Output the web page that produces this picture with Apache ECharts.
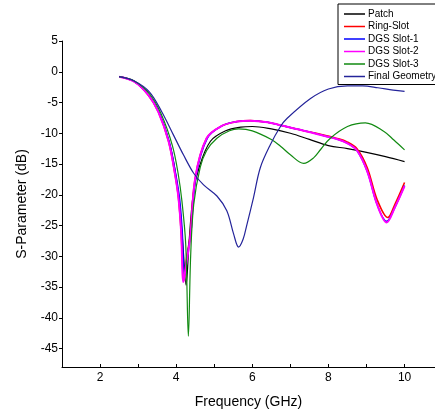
<!DOCTYPE html>
<html>
<head>
<meta charset="utf-8">
<title>S-Parameter</title>
<script src="https://cdn.jsdelivr.net/npm/echarts@6/dist/echarts.min.js"></script>
<style>
  html, body { margin: 0; padding: 0; background: #fff; }
  #chart { width: 435px; height: 414px; }
</style>
</head>
<body>
<div id="chart"></div>
<script>
// values (GHz / dB)
const seriesNames = ['Patch', 'Ring-Slot', 'DGS Slot-1', 'DGS Slot-2', 'DGS Slot-3', 'Final Geometry'];

const patchF = [2.5, 2.9, 3.3, 3.6, 3.85, 4.0, 4.1, 4.18, 4.26, 4.34, 4.45, 4.6, 4.9, 5.3, 5.7, 6.0, 6.5, 7.0, 7.5, 8.0, 8.5, 9.0, 9.5, 10.0];
const patchS = [-0.8, -1.6, -4.0, -7.4, -12.3, -17.2, -22.2, -28.5, -34.7, -27.5, -19.8, -15.6, -11.3, -9.6, -9.0, -8.9, -9.3, -10.0, -11.0, -12.0, -12.5, -13.1, -13.8, -14.6];

const ringF = [2.5, 2.9, 3.27, 3.53, 3.8, 3.97, 4.06, 4.13, 4.2, 4.28, 4.37, 4.5, 4.8, 5.2, 5.6, 5.95, 6.4, 6.74, 7.3, 7.88, 8.2, 8.49, 8.75, 9.02, 9.28, 9.56, 9.75, 10.0];
const ringS = [-0.8, -1.6, -3.8, -6.5, -11.3, -16.7, -20.5, -26.0, -34.0, -30.0, -26.5, -17.3, -10.8, -8.8, -8.1, -7.95, -8.2, -8.7, -9.5, -10.3, -10.8, -11.4, -12.5, -15.6, -20.8, -23.7, -21.5, -18.0];

const slot1F = [2.5, 2.9, 3.28, 3.55, 3.82, 3.99, 4.09, 4.16, 4.22, 4.3, 4.39, 4.52, 4.82, 5.2, 5.6, 5.95, 6.4, 6.74, 7.3, 7.88, 8.2, 8.49, 8.75, 9.02, 9.28, 9.53, 9.75, 10.0];
const slot1S = [-0.8, -1.6, -3.8, -6.6, -11.4, -16.7, -20.6, -26.0, -33.2, -29.5, -26.0, -17.0, -10.8, -8.8, -8.1, -7.95, -8.2, -8.7, -9.5, -10.4, -10.9, -11.6, -12.8, -16.2, -21.6, -24.3, -22.0, -18.5];

const slot2F = [2.5, 2.9, 3.27, 3.53, 3.8, 3.97, 4.06, 4.13, 4.19, 4.27, 4.37, 4.5, 4.8, 5.2, 5.6, 5.95, 6.4, 6.74, 7.3, 7.88, 8.2, 8.49, 8.75, 9.02, 9.28, 9.53, 9.75, 10.0];
const slot2S = [-0.8, -1.6, -3.8, -6.5, -11.3, -16.7, -20.5, -26.0, -34.2, -31.0, -27.0, -17.3, -10.8, -8.8, -8.1, -7.95, -8.2, -8.7, -9.5, -10.4, -10.9, -11.6, -12.8, -16.2, -21.6, -24.5, -22.0, -18.6];

const slot3F = [2.5, 2.9, 3.3, 3.6, 3.9, 4.05, 4.15, 4.25, 4.32, 4.38, 4.46, 4.63, 4.8, 5.07, 5.4, 5.64, 6.0, 6.5, 6.74, 7.0, 7.35, 7.61, 7.8, 8.05, 8.5, 8.97, 9.46, 9.72, 10.0];
const slot3S = [-0.8, -1.5, -3.6, -6.8, -12.0, -16.5, -21.0, -28.0, -43.0, -30.0, -21.6, -15.6, -12.8, -10.8, -9.6, -9.3, -9.6, -11.0, -12.1, -13.5, -14.9, -14.0, -12.6, -10.8, -8.9, -8.3, -9.7, -11.1, -12.7];

const finalF = [2.5, 2.9, 3.3, 3.62, 3.93, 4.19, 4.46, 4.72, 5.07, 5.33, 5.51, 5.64, 5.76, 5.86, 6.03, 6.21, 6.47, 6.74, 6.91, 7.53, 8.0, 8.5, 8.9, 9.3, 9.7, 10.0];
const finalS = [-0.8, -1.5, -3.3, -6.5, -10.3, -13.5, -16.5, -18.4, -20.2, -22.6, -26.4, -28.5, -27.2, -24.8, -20.5, -15.6, -11.9, -8.9, -7.6, -4.35, -2.8, -2.3, -2.3, -2.6, -3.0, -3.2];

const yTicks = [5, 0, -5, -10, -15, -20, -25, -30, -35, -40, -45];

const lines = [
  { f: patchF, s: patchS, color: '#000000', width: 1.2 },
  { f: ringF, s: ringS, color: '#ff0000', width: 1.6 },
  { f: slot1F, s: slot1S, color: '#0000ff', width: 1.4 },
  { f: slot2F, s: slot2S, color: '#ff00ff', width: 2 },
  { f: slot3F, s: slot3S, color: '#118a11', width: 1.2 },
  { f: finalF, s: finalS, color: '#24249a', width: 1.2 }
];

const myChart = echarts.init(document.getElementById('chart'));

const seriesList = lines.map(function (l, i) {
  return {
    name: seriesNames[i],
    type: 'line',
    smooth: 0.35,
    showSymbol: false,
    data: l.f.map(function (x, k) { return [x, l.s[k]]; }),
    lineStyle: { color: l.color, width: l.width },
    itemStyle: { color: l.color }
  };
});

const option = {
  animation: false,
  textStyle: { fontFamily: 'Liberation Sans' },
  grid: { left: 62, right: 0, top: 41, bottom: 42 },
  legend: {
    orient: 'vertical',
    left: 338,
    top: 4,
    padding: [5, 40, 3, 6],
    backgroundColor: '#fff',
    borderColor: '#000',
    borderWidth: 1,
    borderRadius: 0,
    icon: 'rect',
    itemWidth: 21,
    itemHeight: 1.5,
    itemGap: 2.5,
    textStyle: { fontSize: 10, color: '#000', lineHeight: 10, padding: [0, 0, 0, -2] },
    data: seriesNames
  },
  xAxis: {
    type: 'value',
    min: 1,
    max: 10.8,
    interval: 1,
    name: 'Frequency (GHz)',
    nameLocation: 'middle',
    nameGap: 28,
    nameTextStyle: { fontSize: 14, color: '#000' },
    axisLine: { onZero: false, lineStyle: { color: '#000', width: 1 } },
    axisTick: { inside: true, length: 3, lineStyle: { color: '#000' } },
    axisLabel: {
      fontSize: 12,
      color: '#000',
      margin: 5,
      showMaxLabel: false,
      formatter: function (v) { return v % 2 === 0 ? String(v) : ''; }
    },
    splitLine: { show: false }
  },
  yAxis: {
    type: 'value',
    min: -48,
    max: 5,
    name: 'S-Parameter (dB)',
    nameLocation: 'middle',
    nameGap: 33,
    nameTextStyle: { fontSize: 14, color: '#000' },
    axisLine: { show: true, onZero: false, lineStyle: { color: '#000', width: 1 } },
    axisTick: { show: true, length: 3, customValues: yTicks, lineStyle: { color: '#000' } },
    axisLabel: { fontSize: 12, color: '#000', margin: 4, customValues: yTicks },
    splitLine: { show: false }
  },
  series: seriesList
};

myChart.setOption(option);
</script>
</body>
</html>
